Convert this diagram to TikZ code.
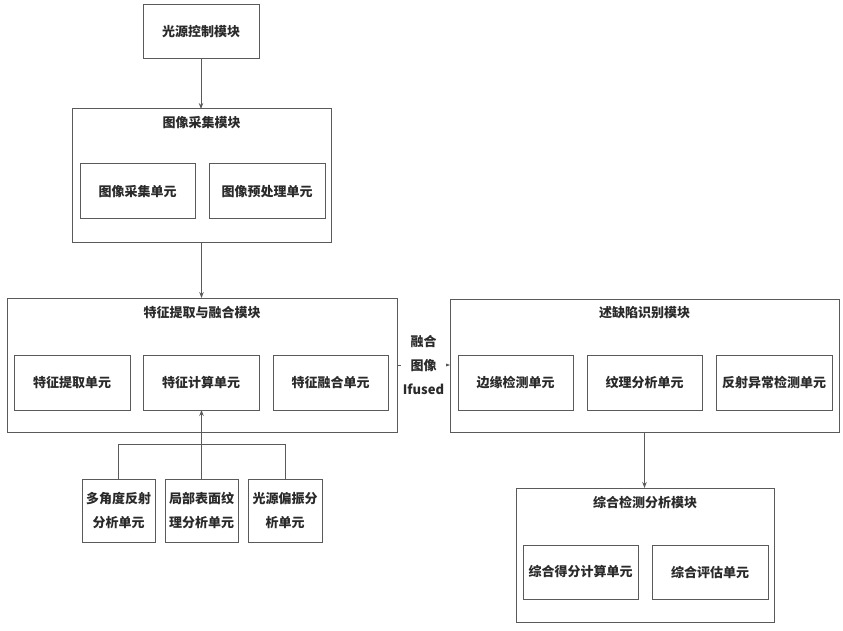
\documentclass[tikz,border=0pt]{standalone}
\usepackage{fontspec}
\newfontfamily\cjk{Noto Sans CJK SC}
\usetikzlibrary{arrows.meta}
\definecolor{bordergray}{HTML}{5A5A5A}
\definecolor{txt}{HTML}{2A2A2A}
\tikzset{
  box/.style={draw=bordergray, line width=1pt, inner sep=0pt, outer sep=0pt, text=txt,
    font={\cjk\bfseries\fontsize{13}{24}\selectfont}, align=center},
  ttl/.style={inner sep=0pt, text=txt, font={\cjk\bfseries\fontsize{13}{24}\selectfont}},
  conn/.style={draw=bordergray, line width=0.9pt},
  arr/.style={conn, -{Stealth[length=6pt,width=4.5pt]}}
}
\begin{document}
\begin{tikzpicture}[x=1pt,y=-1pt]
\useasboundingbox (0,0) rectangle (843,631);
% top
\node[box, minimum width=116pt, minimum height=54pt] (light) at (201,32) {光源控制模块};
% acquisition module
\node[box, minimum width=259pt, minimum height=133pt] (acq) at (201.5,175.5) {};
\node[ttl] (acqt) at (201.5,123) {图像采集模块};
\node[box, minimum width=115pt, minimum height=55pt] (acq1) at (137.5,191.5) {图像采集单元};
\node[box, minimum width=116pt, minimum height=55pt] (acq2) at (267,191.5) {图像预处理单元};
% feature module
\node[box, minimum width=390pt, minimum height=134pt] (feat) at (202,365) {};
\node[ttl] (featt) at (202,313) {特征提取与融合模块};
\node[box, minimum width=116pt, minimum height=55pt] (f1) at (72,382.5) {特征提取单元};
\node[box, minimum width=116pt, minimum height=55pt] (f2) at (201,382.5) {特征计算单元};
\node[box, minimum width=115pt, minimum height=55pt] (f3) at (330.5,382.5) {特征融合单元};
% sub units
\node[box, minimum width=73pt, minimum height=63pt] (s1) at (118.5,510.5) {多角度反射\\分析单元};
\node[box, minimum width=73pt, minimum height=63pt] (s2) at (201.5,510.5) {局部表面纹\\理分析单元};
\node[box, minimum width=74pt, minimum height=63pt] (s3) at (285,510.5) {光源偏振分\\析单元};
% defect module
\node[box, minimum width=389pt, minimum height=133pt] (def) at (644.5,365.5) {};
\node[ttl] (deft) at (644.5,313) {述缺陷识别模块};
\node[box, minimum width=115pt, minimum height=55pt] (d1) at (515.5,382.5) {边缘检测单元};
\node[box, minimum width=115pt, minimum height=55pt] (d2) at (644.5,382.5) {纹理分析单元};
\node[box, minimum width=116pt, minimum height=55pt] (d3) at (774,382.5) {反射异常检测单元};
% comprehensive module
\node[box, minimum width=258pt, minimum height=134pt] (comp) at (645,555) {};
\node[ttl] (compt) at (645,502) {综合检测分析模块};
\node[box, minimum width=115pt, minimum height=54pt] (c1) at (580.5,572) {综合得分计算单元};
\node[box, minimum width=116pt, minimum height=54pt] (c2) at (710,572) {综合评估单元};
% connectors
\draw[arr] (light.south) -- (light.south |- acq.north);
\draw[arr] (acq.south) -- (acq.south |- feat.north);
\draw[arr] (def.south) -- (def.south |- comp.north);
\draw[arr] (feat.east) -- (feat.east -| def.west)
  node[midway, fill=white, inner sep=2pt, text=txt, align=center,
       font={\cjk\bfseries\fontsize{13}{24}\selectfont}] (fused) {融合\\图像\\Ifused};
\coordinate (bus) at (0,444);
\draw[conn] (s1.north) -- (s1.north |- bus) -- (s3.north |- bus) -- (s3.north);
\draw[arr] (s2.north) -- (s2.north |- f2.south);
\end{tikzpicture}
\end{document}
